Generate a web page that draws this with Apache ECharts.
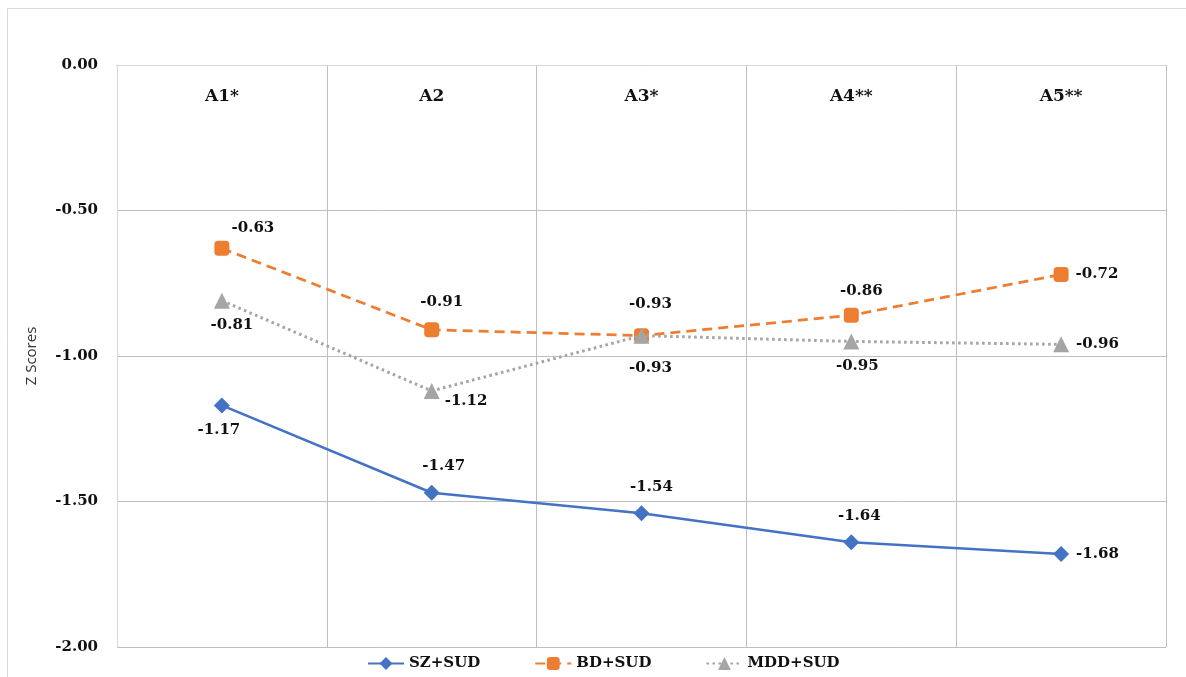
<!DOCTYPE html>
<html><head><meta charset="utf-8">
<script src="https://cdn.jsdelivr.net/npm/echarts@6/dist/echarts.min.js"></script>
<style>html,body{margin:0;padding:0;background:#fff}#c{width:1186px;height:677px}</style>
</head><body><div id="c"></div>
<script>
var categories = ['A1*', 'A2', 'A3*', 'A4**', 'A5**'];
var szSud = [-1.17, -1.47, -1.54, -1.64, -1.68];
var bdSud = [-0.63, -0.91, -0.93, -0.86, -0.72];
var mddSud = [-0.81, -1.12, -0.93, -0.95, -0.96];
var yTicks = { min: -2, max: 0, interval: 0.5 };

var SERIF = '"DejaVu Serif","Liberation Serif",serif';
// label placements (style only)
var szPos = [['bottom',[-3,2]],['top',[12,-4]],['top',[10,-4]],['top',[8,-4]],['right',[0,0]]];
var bdPos = [['top',[31,2]],['top',[10,-6]],['top',[9,-10]],['top',[10,-2]],['right',[0,0]]];
var mddPos = [['bottom',[10,2]],['right',[-2,10]],['bottom',[9,10]],['bottom',[6,2]],['right',[0,0]]];

function items(vals, pos){
  return vals.map(function(v,i){
    return {value:v, label:{position:pos[i][0], offset:pos[i][1]}};
  });
}
var lbl = {show:true, color:'#111', fontFamily:SERIF, fontWeight:'bold', fontSize:15, distance:7,
  formatter:function(p){return p.value.toFixed(2);}};

var chart = echarts.init(document.getElementById('c'), null, {renderer:'canvas'});
chart.setOption({
  animation:false,
  backgroundColor:'#fff',
  graphic:[{type:'rect', shape:{x:7.5,y:8.5,width:1300,height:800}, style:{fill:'none', stroke:'#d9d9d9', lineWidth:1}, z:-1}],
  grid:{left:117, right:20, top:65, bottom:30},
  legend:{
    left:362, top:651, itemWidth:36, itemHeight:16, itemGap:54,
    textStyle:{fontFamily:SERIF, fontWeight:'bold', fontSize:15, color:'#111'},
    data:['SZ+SUD','BD+SUD','MDD+SUD']
  },
  xAxis:[{
    type:'category', data:categories, boundaryGap:true, position:'bottom',
    axisLine:{show:true, lineStyle:{color:'#a6a6a6', width:1}},
    axisTick:{show:false}, axisLabel:{show:false},
    splitLine:{show:true, lineStyle:{color:'#bfbfbf', width:1}}
  },{
    type:'category', data:categories, boundaryGap:true, position:'top',
    axisLine:{show:true, lineStyle:{color:'#d9d9d9', width:1}},
    axisTick:{show:false},
    axisLabel:{show:true, inside:true, margin:23, fontFamily:SERIF, fontWeight:'bold', fontSize:17, color:'#111'},
    splitLine:{show:false}
  }],
  yAxis:{
    type:'value', min:yTicks.min, max:yTicks.max, interval:yTicks.interval,
    name:'Z Scores', nameLocation:'middle', nameRotate:90, nameGap:78,
    nameTextStyle:{fontFamily:'"Open Sans","Liberation Sans",sans-serif', fontSize:15, color:'#333'},
    axisLine:{show:true, lineStyle:{color:'#d9d9d9'}},
    axisTick:{show:false},
    axisLabel:{fontFamily:SERIF, fontWeight:'bold', fontSize:15, color:'#111', margin:19,
      formatter:function(v){return v.toFixed(2);}},
    splitLine:{show:true, lineStyle:{color:'#bfbfbf', width:1}}
  },
  series:[{
    name:'SZ+SUD', type:'line', data:items(szSud, szPos),
    symbol:'diamond', symbolSize:16, itemStyle:{color:'#4472C4'},
    lineStyle:{color:'#4472C4', width:2.5}, label:lbl, z:3
  },{
    name:'BD+SUD', type:'line', data:items(bdSud, bdPos),
    symbol:'roundRect', symbolSize:15, itemStyle:{color:'#ED7D31'},
    lineStyle:{color:'#ED7D31', width:2.75, type:[10,6]}, label:lbl, z:4
  },{
    name:'MDD+SUD', type:'line', data:items(mddSud, mddPos),
    symbol:'triangle', symbolSize:16, itemStyle:{color:'#A5A5A5'},
    lineStyle:{color:'#A5A5A5', width:3, type:[2.6,3.4], cap:'butt'}, label:lbl, z:5
  }]
});
</script></body></html>
